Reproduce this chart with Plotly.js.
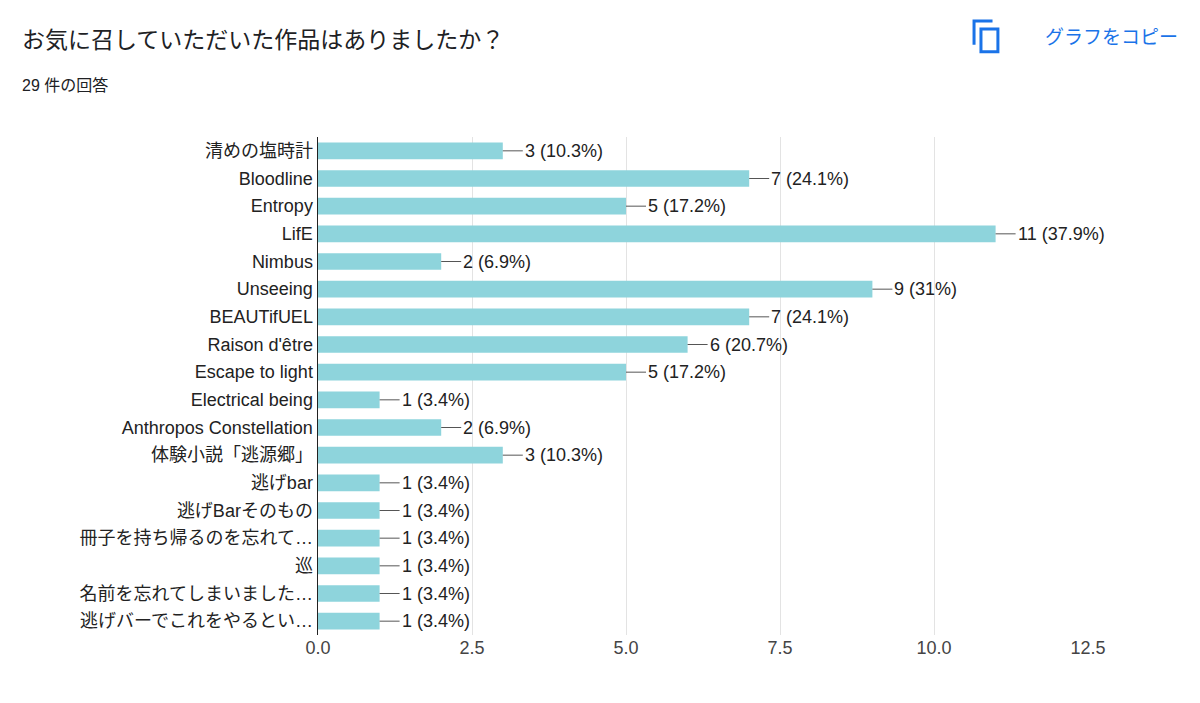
<!DOCTYPE html>
<html><head><meta charset="utf-8">
<script src="https://cdn.plot.ly/plotly-3.0.1.min.js"></script>
<style>body{margin:0;background:#fff}#chart{width:1200px;height:703px}</style>
</head><body><div id="chart"></div>
<script>
const categories = ['清めの塩時計', 'Bloodline', 'Entropy', 'LifE', 'Nimbus', 'Unseeing', 'BEAUTifUEL',
  "Raison d'être", 'Escape to light', 'Electrical being', 'Anthropos Constellation', '体験小説「逃源郷」',
  '逃げbar', '逃げBarそのもの', '冊子を持ち帰るのを忘れて…', '巡', '名前を忘れてしまいました…', '逃げバーでこれをやるとい…'];
const counts = [3, 7, 5, 11, 2, 9, 7, 6, 5, 1, 2, 3, 1, 1, 1, 1, 1, 1];
const percents = ['10.3%', '24.1%', '17.2%', '37.9%', '6.9%', '31%', '24.1%', '20.7%', '17.2%', '3.4%',
  '6.9%', '10.3%', '3.4%', '3.4%', '3.4%', '3.4%', '3.4%', '3.4%'];
const xTicks = [0, 2.5, 5, 7.5, 10, 12.5];

const font = '"Liberation Sans", Arial, "Noto Sans CJK JP", sans-serif';
const annotations = counts.map((c, i) => ({
  x: c, y: categories[i], xref: 'x', yref: 'y',
  text: c + ' (' + percents[i] + ')',
  showarrow: true, arrowhead: 0, arrowwidth: 1, arrowcolor: '#555',
  ax: 20, ay: 0, xanchor: 'left', standoff: 0,
  font: {size: 18, color: '#222', family: font}
}));
annotations.push(
  {xref: 'paper', yref: 'paper', x: -0.387, y: 1.195, xanchor: 'left', yanchor: 'middle', showarrow: false,
   text: 'お気に召していただいた作品はありましたか？', font: {size: 23, color: '#202124', family: font}},
  {xref: 'paper', yref: 'paper', x: -0.387, y: 1.104, xanchor: 'left', yanchor: 'middle', showarrow: false,
   text: '29 件の回答', font: {size: 16, color: '#202124', family: font}},
  {xref: 'paper', yref: 'paper', x: 1.119, y: 1.2, xanchor: 'right', yanchor: 'middle', showarrow: false,
   text: 'グラフをコピー', font: {size: 19, color: '#1a73e8', family: font}}
);

const trace = {
  type: 'bar', orientation: 'h', x: counts, y: categories,
  marker: {color: '#8ed4dc'}, hoverinfo: 'none'
};
const layout = {
  width: 1200, height: 703,
  margin: {l: 318, r: 112, t: 137, b: 68},
  paper_bgcolor: '#fff', plot_bgcolor: '#fff',
  bargap: 0.4, showlegend: false,
  font: {family: font, color: '#222'},
  xaxis: {range: [0, 12.5], tickvals: xTicks, ticktext: xTicks.map(v => v.toFixed(1)),
    showgrid: true, gridcolor: '#e3e3e3', zeroline: false, showline: false,
    tickfont: {size: 18, color: '#444'}, ticks: '', ticklen: 10},
  yaxis: {autorange: 'reversed', showline: true, linecolor: '#222', linewidth: 1.5,
    ticks: '', tickfont: {size: 18, color: '#222'}, ticksuffix: '', automargin: false},
  annotations: annotations,
  shapes: [
    {type: 'rect', xref: 'paper', yref: 'paper', x0: 0.861, x1: 0.883, y0: 1.171, y1: 1.217,
     line: {color: '#1a73e8', width: 3}},
    {type: 'path', xref: 'paper', yref: 'paper', path: 'M 0.852 1.185 L 0.852 1.233 L 0.876 1.233',
     line: {color: '#1a73e8', width: 3}}
  ]
};
Plotly.newPlot('chart', [trace], layout, {displayModeBar: false, staticPlot: true});
</script></body></html>
